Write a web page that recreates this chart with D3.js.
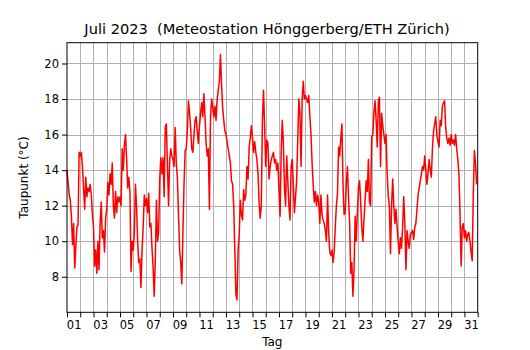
<!DOCTYPE html>
<html>
<head>
<meta charset="utf-8">
<script src="https://cdn.jsdelivr.net/npm/d3@7"></script>
<style>
  html, body { margin: 0; padding: 0; background: #fff; }
  svg { display: block; font-family: "DejaVu Sans", sans-serif; }
</style>
</head>
<body>
<div id="chart"></div>
<script>
// Dew point (°C), July 2023, values every 2 hours (12 per day)
const day01 = [14.0, 13.3, 12.6, 12.3, 11.4, 9.8, 11.0, 8.5, 9.7, 10.8, 10.9, 15.0];
const day02 = [14.8, 15.0, 14.2, 13.0, 11.8, 13.6, 12.5, 13.0, 12.8, 13.2, 12.6, 11.5];
const day03 = [10.8, 8.6, 9.5, 8.2, 10.0, 8.4, 11.0, 12.2, 10.2, 10.6, 9.4, 11.3];
const day04 = [11.8, 13.3, 12.6, 13.8, 13.2, 14.4, 12.0, 11.3, 12.8, 11.6, 12.5, 12.2];
const day05 = [12.5, 12.0, 15.2, 14.0, 15.4, 16.0, 14.6, 13.0, 13.6, 12.8, 8.3, 10.0];
const day06 = [9.5, 10.5, 13.2, 12.0, 10.0, 8.8, 9.0, 7.4, 9.5, 10.8, 12.6, 12.0];
const day07 = [12.4, 11.6, 12.7, 10.8, 11.0, 9.6, 8.5, 6.9, 9.0, 12.3, 10.0, 10.5];
const day08 = [13.5, 14.7, 13.8, 14.7, 12.5, 16.4, 16.6, 14.2, 12.0, 14.6, 15.2, 14.8];
const day09 = [14.6, 14.2, 16.4, 14.4, 13.5, 11.5, 9.5, 8.8, 7.6, 10.5, 13.2, 15.1];
const day10 = [15.2, 16.2, 17.9, 17.2, 16.4, 15.2, 15.0, 16.0, 16.8, 17.0, 16.2, 15.5];
const day11 = [16.5, 17.2, 17.8, 17.0, 18.3, 17.0, 15.5, 14.8, 15.2, 11.8, 17.0, 18.0];
const day12 = [17.5, 17.0, 17.6, 16.8, 18.0, 18.5, 19.0, 20.5, 18.8, 17.5, 16.8, 16.2];
const day13 = [16.0, 15.6, 15.2, 14.8, 14.4, 13.4, 13.2, 12.0, 9.5, 7.0, 6.7, 9.5];
const day14 = [10.4, 12.3, 11.5, 11.2, 12.9, 12.3, 12.6, 14.2, 13.5, 15.3, 15.8, 16.5];
const day15 = [15.8, 15.0, 15.6, 15.0, 14.6, 13.8, 12.2, 11.3, 12.0, 16.8, 18.5, 16.5];
const day16 = [14.2, 15.7, 15.5, 13.5, 14.2, 14.6, 14.8, 15.0, 14.4, 14.6, 14.0, 14.4];
const day17 = [12.9, 11.4, 15.1, 16.8, 15.5, 13.0, 12.0, 14.8, 13.4, 12.0, 11.2, 14.2];
const day18 = [14.6, 13.2, 11.6, 12.5, 13.4, 15.7, 18.0, 17.2, 14.2, 18.0, 19.0, 18.0];
const day19 = [18.2, 18.0, 17.8, 18.2, 17.0, 16.0, 14.4, 13.2, 12.2, 12.8, 12.0, 12.6];
const day20 = [12.2, 11.0, 12.6, 11.5, 11.2, 11.0, 10.6, 10.0, 12.6, 10.5, 9.4, 9.2];
const day21 = [9.5, 8.8, 9.4, 10.8, 12.0, 12.7, 15.3, 14.8, 15.8, 16.6, 13.2, 11.5];
const day22 = [11.6, 13.3, 14.2, 12.5, 11.0, 8.2, 8.8, 6.9, 8.4, 11.4, 10.0, 11.6];
const day23 = [13.0, 13.4, 12.2, 10.8, 10.0, 11.2, 12.3, 13.4, 12.8, 14.6, 12.2, 12.0];
const day24 = [15.9, 16.0, 17.2, 17.9, 16.8, 15.3, 17.9, 18.1, 14.2, 17.2, 16.5, 16.0];
const day25 = [15.5, 16.0, 13.8, 12.5, 12.0, 9.3, 12.0, 13.5, 12.0, 11.0, 11.8, 10.8];
const day26 = [10.0, 9.3, 10.2, 9.6, 10.8, 12.5, 11.0, 8.4, 10.6, 10.0, 9.6, 10.4];
const day27 = [10.5, 10.6, 10.1, 10.8, 11.0, 11.8, 12.6, 13.0, 13.4, 13.8, 14.2, 14.0];
const day28 = [14.8, 14.0, 13.2, 13.8, 14.6, 14.0, 13.6, 15.2, 16.2, 16.6, 17.0, 16.0];
const day29 = [15.6, 15.3, 16.8, 16.5, 17.6, 17.8, 17.9, 16.4, 15.8, 15.5, 15.8, 15.4];
const day30 = [16.0, 15.5, 15.7, 15.4, 16.0, 15.2, 14.6, 13.8, 11.5, 8.6, 10.8, 11.0];
const day31 = [10.2, 10.6, 10.0, 10.4, 10.5, 10.0, 9.4, 8.9, 12.6, 15.1, 14.4, 13.2];

const dailySeries = [day01, day02, day03, day04, day05, day06, day07, day08, day09, day10,
  day11, day12, day13, day14, day15, day16, day17, day18, day19, day20,
  day21, day22, day23, day24, day25, day26, day27, day28, day29, day30, day31];
const samplesPerDay = 12;

const xTickLabels = ["01","03","05","07","09","11","13","15","17","19","21","23","25","27","29","31"];
const yTicks = [8, 10, 12, 14, 16, 18, 20];

const titleText = "Juli 2023  (Meteostation Hönggerberg/ETH Zürich)";
const xLabelText = "Tag";
const yLabelText = "Taupunkt (°C)";

// ---- build points ----
const points = [];
dailySeries.forEach((vals, d) => {
  vals.forEach((v, k) => points.push({ t: d + k / samplesPerDay, v: v }));
});

const W = 530, H = 350;
const pLeft = 67, pRight = 477.7, pTop = 42.7, pBottom = 312.3;

const svg = d3.select("#chart").append("svg")
  .attr("width", W).attr("height", H);
svg.append("rect").attr("width", W).attr("height", H).attr("fill", "#fff");

const x = d3.scaleLinear().domain([0, 31]).range([pLeft, pRight]);
const y = d3.scaleLinear().domain([6.0, 21.17]).range([pBottom, pTop]);

// grid
const grid = svg.append("g").attr("stroke", "#b0b0b0").attr("stroke-width", 1);
grid.selectAll("line.v").data(d3.range(1, 31)).join("line")
  .attr("x1", d => Math.round(x(d)) + 0.5).attr("x2", d => Math.round(x(d)) + 0.5)
  .attr("y1", pTop).attr("y2", pBottom);
grid.selectAll("line.h").data(yTicks).join("line")
  .attr("y1", d => Math.round(y(d)) + 0.5).attr("y2", d => Math.round(y(d)) + 0.5)
  .attr("x1", pLeft).attr("x2", pRight);

// line
const line = d3.line().x(d => x(d.t)).y(d => y(d.v));
svg.append("path").datum(points)
  .attr("fill", "none").attr("stroke", "#ff0000").attr("stroke-width", 1.5)
  .attr("stroke-linejoin", "round")
  .attr("d", line);

// frame
svg.append("rect").attr("x", pLeft).attr("y", pTop)
  .attr("width", pRight - pLeft).attr("height", pBottom - pTop)
  .attr("fill", "none").attr("stroke", "#000").attr("stroke-width", 1);

// x ticks (every day) and labels (odd days, centered in day)
const xAxisTicks = d3.axisBottom(x).tickValues(d3.range(0, 32)).tickSize(5).tickFormat("");
const gxt = svg.append("g").attr("transform", `translate(0,${pBottom})`).call(xAxisTicks);
gxt.select(".domain").remove();
gxt.selectAll(".tick line").attr("stroke", "#000");

const labelPos = xTickLabels.map(s => +s - 0.5);
const xAxisLabels = d3.axisBottom(x).tickValues(labelPos).tickSize(0)
  .tickFormat((d, i) => xTickLabels[i]);
const gxl = svg.append("g").attr("transform", `translate(0,${pBottom})`).call(xAxisLabels);
gxl.select(".domain").remove();
gxl.selectAll(".tick text").attr("font-size", 11.5).attr("font-family", "DejaVu Sans")
  .attr("fill", "#000").attr("y", 8.5).attr("dy", "0.71em");

// y axis
const yAxis = d3.axisLeft(y).tickValues(yTicks).tickSize(5).tickPadding(3);
const gy = svg.append("g").attr("transform", `translate(${pLeft},0)`).call(yAxis);
gy.select(".domain").remove();
gy.selectAll(".tick line").attr("stroke", "#000");
gy.selectAll(".tick text").attr("font-size", 11.5).attr("font-family", "DejaVu Sans").attr("fill", "#000");

// title and axis labels
svg.append("text").attr("x", 267).attr("y", 34).attr("text-anchor", "middle")
  .attr("font-size", 14.6).attr("fill", "#000").style("white-space", "pre").text(titleText);
svg.append("text").attr("x", (pLeft + pRight) / 2).attr("y", 345.5).attr("text-anchor", "middle")
  .attr("font-size", 12).attr("fill", "#000").text(xLabelText);
svg.append("text").attr("transform", `translate(28,${(pTop + pBottom) / 2}) rotate(-90)`)
  .attr("text-anchor", "middle").attr("font-size", 12).attr("fill", "#000").text(yLabelText);
</script>
</body>
</html>
